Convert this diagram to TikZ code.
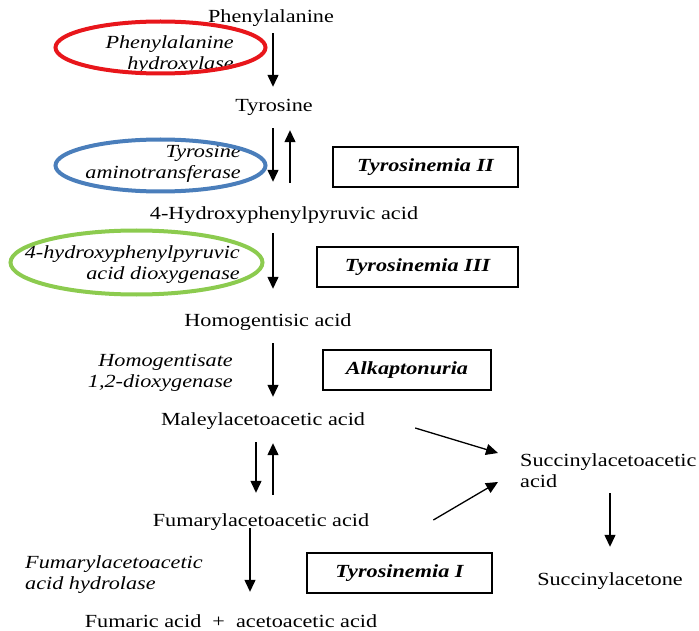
\documentclass[tikz,border=0pt]{standalone}
\usepackage{fontspec}
\setmainfont{Liberation Serif}[FakeStretch=1.2]
\usetikzlibrary{arrows.meta,calc}

\definecolor{ringred}{HTML}{E8161B}
\definecolor{ringblue}{HTML}{4A7EBB}
\definecolor{ringgreen}{HTML}{8CCB4F}

\begin{document}
\begin{tikzpicture}[x=1pt,y=-1pt,
  every node/.style={inner sep=0pt, font=\fontsize{18.5}{21}\selectfont},
  chem/.style={text height=12pt, text depth=4pt},
  enzyme/.style={font=\fontsize{18.5}{21}\selectfont\itshape, align=right, anchor=east},
  disease/.style={draw, line width=1.4pt, minimum height=40pt,
    font=\fontsize{18.5}{21}\selectfont\bfseries\itshape},
  arr/.style={line width=1.3pt, -{Triangle[length=12pt,width=11pt]}},
  ring/.style={line width=4pt}
]
\useasboundingbox (0,0) rectangle (699,631);

% column guides for the vertical arrows
\coordinate (colA) at (273,0);
\coordinate (colB) at (290,0);
\coordinate (colC) at (256,0);
\coordinate (colD) at (250,0);
\coordinate (colS) at (610,0);

% metabolites
\node[chem] (phe)  at (271,19)  {Phenylalanine};
\node[chem] (tyr)  at (274,108) {Tyrosine};
\node[chem] (hpp)  at (284,216) {4-Hydroxyphenylpyruvic acid};
\node[chem] (hga)  at (268,322) {Homogentisic acid};
\node[chem] (maa)  at (263,421) {Maleylacetoacetic acid};
\node[chem] (faa)  at (261,522) {Fumarylacetoacetic acid};
\node[chem] (fum)  at (231,623) {Fumaric acid\ \ +\ \ acetoacetic acid};
\node[align=left, anchor=west] (sac) at (520,471) {Succinylacetoacetic\\acid};
\node[chem] (sacone) at (610,581) {Succinylacetone};

% enzymes
\node[enzyme] (pah)  at (234,55)  {Phenylalanine\\hydroxylase};
\node[enzyme] (tat)  at (241,164) {Tyrosine\\aminotransferase};
\node[enzyme] (hppd) at (240,265) {4-hydroxyphenylpyruvic\\acid dioxygenase};
\node[enzyme] (hgd)  at (233,373) {Homogentisate\\1,2-dioxygenase};
\node[enzyme, align=left, anchor=west] (fah) at (25,575) {Fumarylacetoacetic\\acid hydrolase};

% disorders
\node[disease, minimum width=185pt] (t2)  at (425.5,167) {Tyrosinemia II};
\node[disease, minimum width=201pt] (t3)  at (417.5,267) {Tyrosinemia III};
\node[disease, minimum width=168pt] (alk) at (407,370)   {Alkaptonuria};
\node[disease, minimum width=185pt] (t1)  at (399.5,573) {Tyrosinemia I};

% highlighted enzymes
\draw[ring, ringred]   (160.5,47.5)  ellipse (105 and 26);
\draw[ring, ringblue]  (160.5,165.5) ellipse (105 and 26);
\draw[ring, ringgreen] (136.5,262.5) ellipse (126 and 32);

% reactions
\draw[arr, shorten <=6pt,  shorten >=13pt] (phe.south -| colA) -- (tyr.north -| colA);
\draw[arr, shorten <=12pt, shorten >=26pt] (tyr.south -| colA) -- (hpp.north -| colA);
\draw[arr, shorten <=25pt, shorten >=14pt] (hpp.north -| colB) -- (tyr.south -| colB);
\draw[arr, shorten <=9pt,  shorten >=25pt] (hpp.south -| colA) -- (hga.north -| colA);
\draw[arr, shorten <=13pt, shorten >=16pt] (hga.south -| colA) -- (maa.north -| colA);
\draw[arr, shorten <=13pt, shorten >=21pt] (maa.south -| colC) -- (faa.north -| colC);
\draw[arr, shorten <=19pt, shorten >=14pt] (faa.north -| colA) -- (maa.south -| colA);
\draw[arr, shorten <=-2pt, shorten >=23pt] (faa.south -| colD) -- (fum.north -| colD);
\draw[arr, shorten <=5pt,  shorten >=26pt] (sac.south -| colS) -- (sacone.north -| colS);
\draw[arr] ($(maa.east)+(50,7)$)  -- ($(sac.west)+(-22,-18)$);
\draw[arr] ($(faa.east)+(64,-2)$) -- ($(sac.west)+(-22,11)$);
\end{tikzpicture}
\end{document}
